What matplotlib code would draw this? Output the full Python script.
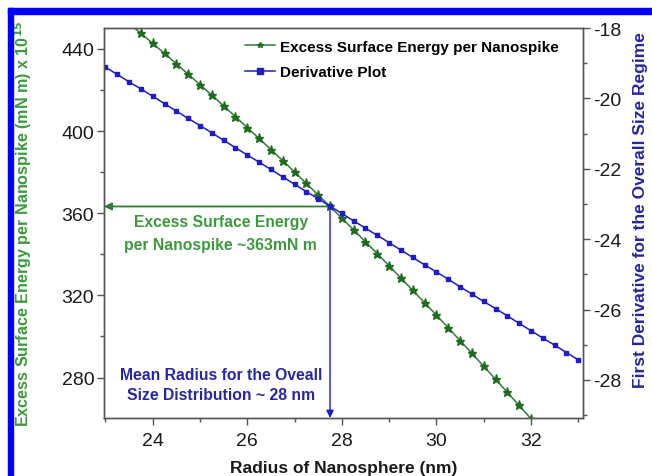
import matplotlib
matplotlib.use("Agg")
import matplotlib.pyplot as plt
from matplotlib.patches import Rectangle
from matplotlib.ticker import MultipleLocator

plt.rcParams['font.family'] = ['Liberation Sans', 'DejaVu Sans']
plt.rcParams['axes.unicode_minus'] = False

# ---- data ----
radius_energy = [23.00, 23.25, 23.50, 23.75, 24.00, 24.25, 24.50, 24.75, 25.00,
                 25.25, 25.50, 25.75, 26.00, 26.25, 26.50, 26.75, 27.00, 27.25,
                 27.50, 27.75, 28.00, 28.25, 28.50, 28.75, 29.00, 29.25, 29.50,
                 29.75, 30.00, 30.25, 30.50, 30.75, 31.00, 31.25, 31.50, 31.75,
                 32.00]
excess_energy = [462.0, 457.3, 452.4, 447.6, 442.7, 437.8, 432.8, 427.7, 422.6,
                 417.5, 412.3, 407.0, 401.7, 396.4, 391.0, 385.6, 380.1, 374.5,
                 368.9, 363.3, 357.6, 351.9, 346.1, 340.3, 334.4, 328.4, 322.5,
                 316.4, 310.4, 304.2, 298.0, 291.8, 285.5, 279.2, 272.8, 266.4,
                 259.9]

radius_deriv = [23.00, 23.25, 23.50, 23.75, 24.00, 24.25, 24.50, 24.75, 25.00,
                25.25, 25.50, 25.75, 26.00, 26.25, 26.50, 26.75, 27.00, 27.25,
                27.50, 27.75, 28.00, 28.25, 28.50, 28.75, 29.00, 29.25, 29.50,
                29.75, 30.00, 30.25, 30.50, 30.75, 31.00, 31.25, 31.50, 31.75,
                32.00, 32.25, 32.50, 32.75, 33.00]
derivative = [-19.11, -19.32, -19.53, -19.73, -19.94, -20.15, -20.36, -20.57, -20.77,
              -20.98, -21.19, -21.40, -21.61, -21.81, -22.02, -22.23, -22.44, -22.65,
              -22.85, -23.06, -23.27, -23.48, -23.69, -23.89, -24.10, -24.31, -24.52,
              -24.73, -24.93, -25.14, -25.35, -25.56, -25.77, -25.97, -26.18, -26.39,
              -26.60, -26.81, -27.01, -27.22, -27.43]

mean_radius = 27.75
energy_at_mean = 363.3

label_energy = "Excess Surface Energy per Nanospike"
label_deriv = "Derivative Plot"

GREEN_LINE = '#2e7d32'
GREEN_MARK = '#1f6b1f'
GREEN_TEXT = '#3c9a3c'
BLUE_LINE = '#1c1cc8'
BLUE_TEXT = '#2626a6'

fig = plt.figure(figsize=(6.52, 4.77), dpi=100)
ax = fig.add_axes([104/652, 1-419/477, (583-104)/652, (419-29)/477])
ax2 = ax.twinx()

l1, = ax.plot(radius_energy, excess_energy, '-', color=GREEN_LINE, lw=1.1,
              marker='*', ms=6.5, mfc=GREEN_MARK, mec=GREEN_MARK, label=label_energy)
l2, = ax2.plot(radius_deriv, derivative, '-', color=BLUE_LINE, lw=1.1,
               marker='s', ms=3.5, mfc=BLUE_LINE, mec=BLUE_LINE, label=label_deriv)

ax.set_xlim(22.97, 33.1)
ax.set_ylim(260.3, 450.2)
ax2.set_ylim(-29.08, -18.0)

ax.xaxis.set_major_locator(MultipleLocator(2))
ax.xaxis.set_minor_locator(MultipleLocator(1))
ax.yaxis.set_major_locator(MultipleLocator(40))
ax.yaxis.set_minor_locator(MultipleLocator(20))
ax2.yaxis.set_major_locator(MultipleLocator(2))
ax2.yaxis.set_minor_locator(MultipleLocator(1))

for a in (ax, ax2):
    a.tick_params(which='major', direction='out', length=5, width=1,
                  color='#555555', labelsize=14, labelcolor='#1a1a1a', pad=2)
    a.tick_params(which='minor', direction='out', length=3, width=1, color='#555555')
    for s in a.spines.values():
        s.set_color('#555555')
        s.set_linewidth(1.0)
ax.tick_params(axis='x', which='major', pad=5)

# annotations
ax.annotate('', xy=(ax.get_xlim()[0], energy_at_mean), xytext=(mean_radius, energy_at_mean),
            arrowprops=dict(arrowstyle='-|>', color=GREEN_LINE, lw=1.3,
                            mutation_scale=11, shrinkA=0, shrinkB=0))
ax.annotate('', xy=(mean_radius, ax.get_ylim()[0]), xytext=(mean_radius, energy_at_mean),
            arrowprops=dict(arrowstyle='-|>', color=BLUE_LINE, lw=1.0,
                            mutation_scale=11, shrinkA=0, shrinkB=0))

ax.text(25.44, 350.4, "Excess Surface Energy\nper Nanospike ~363mN m",
        color=GREEN_TEXT, fontsize=11.3, fontweight='bold', ha='center', va='center',
        linespacing=1.6)
ax.text(25.44, 276.6, "Mean Radius for the Oveall\nSize Distribution ~ 28 nm",
        color=BLUE_TEXT, fontsize=11.3, fontweight='bold', ha='center', va='center',
        linespacing=1.4)

ax.set_xlabel("Radius of Nanosphere (nm)", fontsize=12.5, fontweight='bold',
              color='#1a1a1a', labelpad=8)
ax.set_ylabel(r"Excess Surface Energy per Nanospike (mN m) x 10$^{\mathbf{15}}$",
              fontsize=11.6, fontweight='bold', color=GREEN_TEXT)
ax.yaxis.label.set_verticalalignment('center')
ax.yaxis.set_label_coords(-0.168, 0.5)
ax2.set_ylabel("First Derivative for the Overall Size Regime",
               fontsize=12.5, fontweight='bold', color=BLUE_TEXT, rotation=90)
ax2.yaxis.label.set_verticalalignment('center')
ax2.yaxis.set_label_coords(1.121, 0.535)

leg = ax2.legend(handles=[l1, l2], loc='upper left', bbox_to_anchor=(0.294, 0.970),
                 borderaxespad=0, borderpad=0, frameon=False, handlelength=2.0,
                 handletextpad=0.3, labelspacing=0.75,
                 prop={'weight': 'bold', 'size': 11})
for h in leg.legend_handles:
    h.set_markersize(4)

# blue frame bands
fig.patches.append(Rectangle((8/652, 0), 5/652, 1-9/477, transform=fig.transFigure,
                             color='#0000ff', zorder=10))
fig.patches.append(Rectangle((8/652, 1-15/477), 1, 6/477, transform=fig.transFigure,
                             color='#0000ff', zorder=10))

fig.savefig("out.png", dpi=100)
